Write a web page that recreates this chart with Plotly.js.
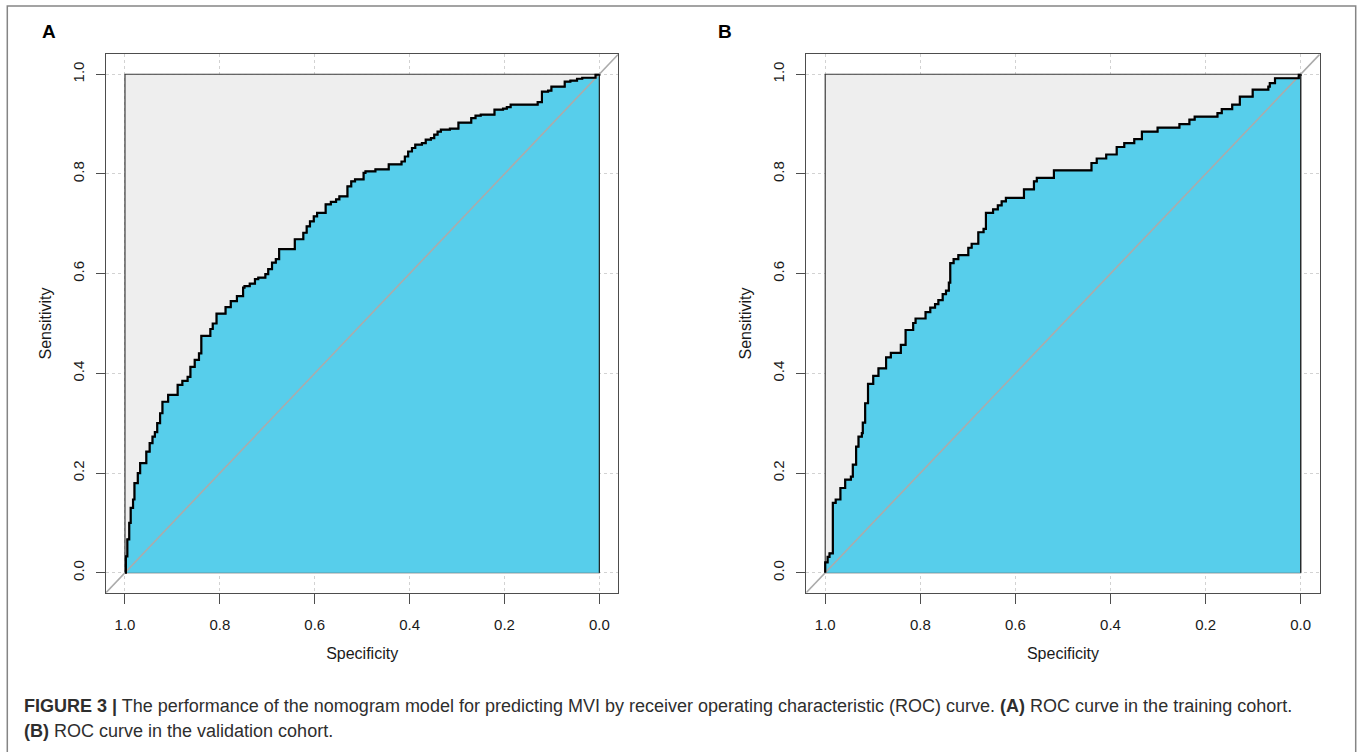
<!DOCTYPE html>
<html>
<head>
<meta charset="utf-8">
<script src="https://cdn.plot.ly/plotly-3.0.1.min.js"></script>
<style>
  html, body { margin: 0; padding: 0; background: #ffffff; }
  #chart { width: 1360px; height: 752px; }
</style>
</head>
<body>
<div id="chart"></div>
<script>
// ---------- Data ----------
// Panel A: training cohort ROC curve (specificity, sensitivity)
const specA = [1, 0.998, 0.995, 0.991, 0.988, 0.983, 0.98, 0.973, 0.968, 0.955,
  0.948, 0.942, 0.937, 0.932, 0.926, 0.921, 0.909, 0.889, 0.879, 0.868,
  0.862, 0.853, 0.844, 0.839, 0.82, 0.815, 0.807, 0.788, 0.777, 0.764,
  0.751, 0.748, 0.737, 0.726, 0.719, 0.704, 0.698, 0.69, 0.682, 0.675,
  0.642, 0.624, 0.617, 0.61, 0.602, 0.595, 0.577, 0.566, 0.555, 0.548,
  0.531, 0.523, 0.515, 0.497, 0.493, 0.472, 0.444, 0.417, 0.41, 0.403,
  0.395, 0.388, 0.374, 0.366, 0.355, 0.348, 0.341, 0.334, 0.315, 0.297,
  0.27, 0.261, 0.25, 0.221, 0.203, 0.195, 0.187, 0.13, 0.121, 0.108,
  0.101, 0.073, 0.061, 0.047, 0.036, 0.008, 0];
const sensA = [0, 0.033, 0.067, 0.1, 0.13, 0.147, 0.18, 0.2, 0.22, 0.243,
  0.26, 0.273, 0.282, 0.3, 0.32, 0.343, 0.357, 0.377, 0.385, 0.393,
  0.413, 0.427, 0.44, 0.475, 0.489, 0.5, 0.52, 0.533, 0.545, 0.555,
  0.572, 0.575, 0.58, 0.589, 0.592, 0.599, 0.609, 0.622, 0.629, 0.649,
  0.669, 0.682, 0.695, 0.705, 0.715, 0.722, 0.739, 0.744, 0.749, 0.755,
  0.775, 0.785, 0.789, 0.802, 0.805, 0.809, 0.819, 0.825, 0.835, 0.845,
  0.852, 0.859, 0.862, 0.869, 0.872, 0.879, 0.885, 0.889, 0.891, 0.903,
  0.912, 0.917, 0.919, 0.929, 0.931, 0.934, 0.939, 0.944, 0.965, 0.967,
  0.975, 0.985, 0.987, 0.991, 0.993, 0.999, 1];

// Panel B: validation cohort ROC curve (specificity, sensitivity)
const specB = [1, 1, 0.995, 0.991, 0.984, 0.978, 0.968, 0.958, 0.946, 0.942,
  0.935, 0.93, 0.923, 0.921, 0.916, 0.91, 0.899, 0.888, 0.872, 0.862,
  0.841, 0.831, 0.815, 0.81, 0.789, 0.779, 0.769, 0.762, 0.753, 0.746,
  0.74, 0.737, 0.73, 0.72, 0.699, 0.692, 0.678, 0.667, 0.662, 0.647,
  0.637, 0.629, 0.62, 0.582, 0.561, 0.555, 0.519, 0.44, 0.429, 0.409,
  0.387, 0.371, 0.35, 0.334, 0.301, 0.255, 0.234, 0.223, 0.175, 0.166,
  0.144, 0.128, 0.101, 0.068, 0.065, 0.054, 0.004, 0];
const sensB = [0, 0.021, 0.032, 0.039, 0.14, 0.147, 0.17, 0.187, 0.193, 0.217,
  0.253, 0.273, 0.28, 0.301, 0.34, 0.379, 0.395, 0.41, 0.432, 0.441,
  0.457, 0.487, 0.501, 0.51, 0.523, 0.532, 0.539, 0.547, 0.559, 0.566,
  0.582, 0.621, 0.629, 0.637, 0.652, 0.66, 0.683, 0.69, 0.722, 0.729,
  0.737, 0.745, 0.752, 0.769, 0.785, 0.792, 0.807, 0.822, 0.831, 0.839,
  0.854, 0.862, 0.87, 0.885, 0.893, 0.9, 0.909, 0.915, 0.922, 0.93,
  0.939, 0.955, 0.969, 0.975, 0.982, 0.992, 0.999, 1];

// Maximum-AUC polygon (the full unit square) and identity (chance) line
const maxPolySpec = [1, 0, 0, 1, 1];
const maxPolySens = [0, 0, 1, 1, 0];
const chanceSpec = [1.04, -0.04];
const chanceSens = [-0.04, 1.04];

// Tick values and labels
const tickVals = [0, 0.2, 0.4, 0.6, 0.8, 1.0];
const tickLabels = ['0.0', '0.2', '0.4', '0.6', '0.8', '1.0'];

// Text
const panelLabels = ['A', 'B'];
const xTitle = 'Specificity';
const yTitle = 'Sensitivity';
const captionLine1 = '<b>FIGURE 3 |</b> The performance of the nomogram model for predicting MVI by receiver operating characteristic (ROC) curve. <b>(A)</b> ROC curve in the training cohort.';
const captionLine2 = '<b>(B)</b> ROC curve in the validation cohort.';

// ---------- Styling ----------
const FONT = 'Liberation Sans, Arial, Helvetica, sans-serif';
const W = 1360, H = 752;
const BLUE = '#57CEEB';
const GRAYFILL = '#EEEEEE';

function panelTraces(spec, sens, xa, ya) {
  return [
    { x: maxPolySpec, y: maxPolySens, xaxis: xa, yaxis: ya, type: 'scatter', mode: 'lines',
      fill: 'toself', fillcolor: GRAYFILL, line: { color: '#3a3a3a', width: 1.2 }, hoverinfo: 'skip' },
    { x: spec.concat([0]), y: sens.concat([0]), xaxis: xa, yaxis: ya, type: 'scatter', mode: 'lines',
      fill: 'toself', fillcolor: BLUE, line: { color: '#222222', width: 1.2, shape: 'hv' }, hoverinfo: 'skip' },
    { x: chanceSpec, y: chanceSens, xaxis: xa, yaxis: ya, type: 'scatter', mode: 'lines',
      line: { color: '#ABABAB', width: 1.6 }, hoverinfo: 'skip' },
    { x: spec, y: sens, xaxis: xa, yaxis: ya, type: 'scatter', mode: 'lines',
      line: { color: '#000000', width: 2.2, shape: 'hv' }, hoverinfo: 'skip' }
  ];
}

const yDom = [(H - 592.7) / H, (H - 54.3) / H];

function xAxis(domain, anchor) {
  return {
    domain: domain, anchor: anchor, range: [1.04, -0.04],
    tickvals: tickVals, ticktext: tickLabels,
    ticks: 'outside', ticklen: 10, tickwidth: 1, tickcolor: '#4d4d4d',
    ticklabelstandoff: 8,
    tickfont: { family: FONT, size: 15, color: '#1a1a1a' },
    showline: true, linecolor: '#4d4d4d', linewidth: 1, mirror: true,
    showgrid: true, gridcolor: '#d2d2d2', griddash: 'dot', gridwidth: 1,
    zeroline: false, fixedrange: true, automargin: false,
    title: { text: xTitle, font: { family: FONT, size: 16, color: '#1a1a1a' }, standoff: 16 }
  };
}
function yAxis(anchor) {
  return {
    domain: yDom, anchor: anchor, range: [-0.04, 1.04],
    tickvals: tickVals, ticktext: tickLabels, tickangle: -90,
    ticks: 'outside', ticklen: 9, tickwidth: 1, tickcolor: '#4d4d4d',
    ticklabelstandoff: 6,
    tickfont: { family: FONT, size: 15, color: '#1a1a1a' },
    showline: true, linecolor: '#4d4d4d', linewidth: 1, mirror: true,
    showgrid: true, gridcolor: '#d2d2d2', griddash: 'dot', gridwidth: 1,
    zeroline: false, fixedrange: true, automargin: false,
    title: { text: yTitle, font: { family: FONT, size: 16, color: '#1a1a1a' }, standoff: 14 }
  };
}

const data = [].concat(
  panelTraces(specA, sensA, 'x', 'y'),
  panelTraces(specB, sensB, 'x2', 'y2')
);

const layout = {
  width: W, height: H,
  margin: { l: 0, r: 0, t: 0, b: 0 },
  paper_bgcolor: '#ffffff', plot_bgcolor: '#ffffff',
  showlegend: false,
  font: { family: FONT },
  xaxis: xAxis([106 / W, 618.3 / W], 'y'),
  yaxis: yAxis('x'),
  xaxis2: xAxis([806.2 / W, 1319.7 / W], 'y2'),
  yaxis2: yAxis('x2'),
  shapes: [
    { type: 'rect', xref: 'paper', yref: 'paper', layer: 'above',
      x0: 7.3 / W, x1: 1355.7 / W, y0: -0.03, y1: (H - 6) / H,
      line: { color: '#858585', width: 1.5 }, fillcolor: 'rgba(0,0,0,0)' }
  ],
  annotations: [
    { text: '<b>' + panelLabels[0] + '</b>', xref: 'paper', yref: 'paper', x: 40 / W, y: (H - 32) / H,
      xanchor: 'left', yanchor: 'middle', showarrow: false, font: { family: FONT, size: 19, color: '#000' } },
    { text: '<b>' + panelLabels[1] + '</b>', xref: 'paper', yref: 'paper', x: 716 / W, y: (H - 32) / H,
      xanchor: 'left', yanchor: 'middle', showarrow: false, font: { family: FONT, size: 19, color: '#000' } },
    { text: captionLine1, xref: 'paper', yref: 'paper', x: 22 / W, y: (H - 706) / H,
      xanchor: 'left', yanchor: 'middle', showarrow: false, align: 'left',
      font: { family: FONT, size: 18, color: '#2e2e2e' } },
    { text: captionLine2, xref: 'paper', yref: 'paper', x: 22 / W, y: (H - 731) / H,
      xanchor: 'left', yanchor: 'middle', showarrow: false, align: 'left',
      font: { family: FONT, size: 18, color: '#2e2e2e' } }
  ]
};

Plotly.newPlot('chart', data, layout, { displayModeBar: false, staticPlot: true });
</script>
</body>
</html>
